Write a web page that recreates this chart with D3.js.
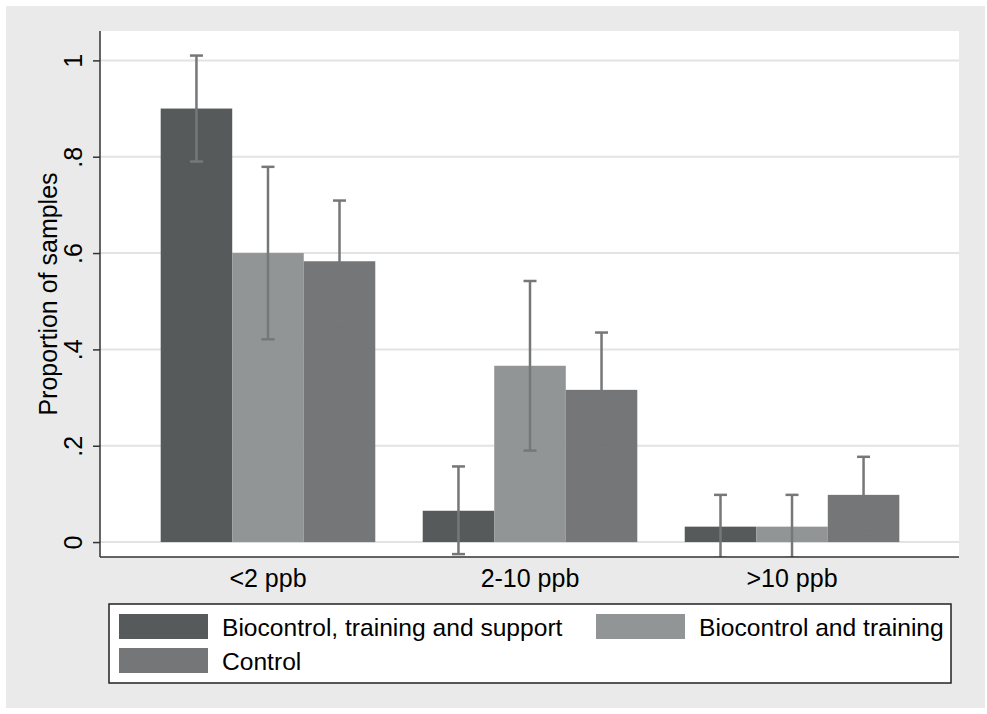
<!DOCTYPE html>
<html>
<head>
<meta charset="utf-8">
<script src="https://cdn.jsdelivr.net/npm/d3@7/dist/d3.min.js"></script>
<style>
  body { margin: 0; background: #ffffff; }
  text { font-family: "Liberation Sans", Arial, sans-serif; fill: #000; }
</style>
</head>
<body>
<div id="chart"></div>
<script>
// categories and series
var categories = ["<2 ppb", "2-10 ppb", ">10 ppb"];
var seriesNames = ["Biocontrol, training and support", "Biocontrol and training", "Control"];
var seriesColors = ["#565a5b", "#929595", "#757677"];

// proportions per series (one value per category)
var meanSupport = [0.900, 0.065, 0.032];
var meanTraining = [0.600, 0.366, 0.032];
var meanControl = [0.583, 0.316, 0.098];

// confidence interval bounds
var upperSupport = [1.010, 0.157, 0.098];
var upperTraining = [0.779, 0.542, 0.098];
var upperControl = [0.709, 0.435, 0.177];
var lowerSupport = [0.790, -0.025, -0.033];
var lowerTraining = [0.421, 0.190, -0.033];
var lowerControl = [0.457, 0.197, 0.019];

var yTicks = [0, 0.2, 0.4, 0.6, 0.8, 1];

var means = [meanSupport, meanTraining, meanControl];
var uppers = [upperSupport, upperTraining, upperControl];
var lowers = [lowerSupport, lowerTraining, lowerControl];

// build flat table of bars
var bars = [];
categories.forEach(function(c, ci) {
    seriesNames.forEach(function(s, si) {
        bars.push({cat: c, series: s, si: si, v: means[si][ci], lo: lowers[si][ci], hi: uppers[si][ci]});
    });
});

var W = 987, H = 714;
var plot = {left: 100, right: 959, top: 31, bottom: 557};
var errColor = "#767778";

var svg = d3.select("#chart").append("svg")
    .attr("width", W)
    .attr("height", H);

// outer gray panel
svg.append("rect")
    .attr("x", 6).attr("y", 6)
    .attr("width", 979).attr("height", 702)
    .attr("fill", "#eaeaea");

// white plot region
svg.append("rect")
    .attr("x", plot.left).attr("y", plot.top)
    .attr("width", plot.right - plot.left).attr("height", plot.bottom - plot.top)
    .attr("fill", "#ffffff");

//-----scales-----
var y = d3.scaleLinear()
    .domain([-0.031, 1.061])
    .range([plot.bottom, plot.top]);

var x = d3.scaleBand()
    .domain(categories)
    .range([plot.left, plot.right + 1])
    .paddingInner(0.181)
    .paddingOuter(0.2316);

var xSeries = d3.scaleBand()
    .domain(seriesNames)
    .range([0, x.bandwidth()]);

// gridlines
svg.append("g").selectAll("line")
    .data(yTicks)
    .enter().append("line")
    .attr("x1", plot.left)
    .attr("x2", plot.right)
    .attr("y1", function(d) { return y(d); })
    .attr("y2", function(d) { return y(d); })
    .style("stroke", "#e3e3e3")
    .style("stroke-width", 2);

// clip for error bars
svg.append("clipPath").attr("id", "plotclip")
    .append("rect")
    .attr("x", plot.left).attr("y", plot.top)
    .attr("width", plot.right - plot.left).attr("height", plot.bottom - plot.top);

// bars
svg.append("g").selectAll("rect")
    .data(bars)
    .enter().append("rect")
    .attr("x", function(d) { return x(d.cat) + xSeries(d.series); })
    .attr("y", function(d) { return y(d.v); })
    .attr("width", xSeries.bandwidth())
    .attr("height", function(d) { return y(0) - y(d.v); })
    .attr("fill", function(d) { return seriesColors[d.si]; });

// error bars
var err = svg.append("g")
    .attr("clip-path", "url(#plotclip)")
    .selectAll("g")
    .data(bars)
    .enter().append("g")
    .attr("transform", function(d) {
        return "translate(" + (x(d.cat) + xSeries(d.series) + xSeries.bandwidth() / 2) + ",0)";
    });

err.append("line")
    .attr("x1", 0).attr("x2", 0)
    .attr("y1", function(d) { return y(d.lo); })
    .attr("y2", function(d) { return y(d.hi); })
    .style("stroke", errColor)
    .style("stroke-width", 2.5);

err.selectAll(".cap")
    .data(function(d) { return [d.lo, d.hi]; })
    .enter().append("line")
    .attr("class", "cap")
    .attr("x1", -6.5).attr("x2", 6.5)
    .attr("y1", function(d) { return y(d); })
    .attr("y2", function(d) { return y(d); })
    .style("stroke", errColor)
    .style("stroke-width", 2.5);

//-----axes-----
var yAxis = d3.axisLeft(y)
    .tickValues(yTicks)
    .tickSize(7)
    .tickSizeOuter(0)
    .tickFormat(function(d) {
        if (d === 0) return "0";
        if (d === 1) return "1";
        return String(d).replace("0.", ".");
    });

var yg = svg.append("g")
    .attr("transform", "translate(" + plot.left + ",0)")
    .call(yAxis);
yg.select(".domain").remove();
yg.selectAll(".tick line").style("stroke", "#333").style("stroke-width", 1.5);
yg.selectAll(".tick text")
    .attr("transform", "rotate(-90)")
    .attr("x", 0)
    .attr("y", -18)
    .attr("dy", 0)
    .attr("text-anchor", "middle")
    .style("font-size", "25px")
    .style("font-family", "'Liberation Sans', Arial, sans-serif")
    .style("fill", "#000");

// axis lines
svg.append("line")
    .attr("x1", plot.left).attr("x2", plot.left)
    .attr("y1", plot.top).attr("y2", plot.bottom)
    .style("stroke", "#333").style("stroke-width", 1.5);
svg.append("line")
    .attr("x1", plot.left).attr("x2", plot.right)
    .attr("y1", plot.bottom).attr("y2", plot.bottom)
    .style("stroke", "#333").style("stroke-width", 1.5);

// category labels
svg.append("g").selectAll("text")
    .data(categories)
    .enter().append("text")
    .attr("x", function(d) { return x(d) + x.bandwidth() / 2; })
    .attr("y", 587)
    .attr("text-anchor", "middle")
    .style("font-size", "25px")
    .text(function(d) { return d; });

// y axis title
svg.append("text")
    .attr("transform", "translate(57," + ((plot.top + plot.bottom) / 2) + ") rotate(-90)")
    .attr("text-anchor", "middle")
    .style("font-size", "25px")
    .text("Proportion of samples");

//-----legend-----
var legend = svg.append("g");
legend.append("rect")
    .attr("x", 109).attr("y", 604)
    .attr("width", 842).attr("height", 79)
    .attr("fill", "#ffffff")
    .style("stroke", "#222")
    .style("stroke-width", 1.5);

var legendPos = [
    {x: 119, y: 614},
    {x: 596, y: 614},
    {x: 119, y: 648}
];

var items = legend.selectAll(".item")
    .data(seriesNames)
    .enter().append("g")
    .attr("class", "item")
    .attr("transform", function(d, i) { return "translate(" + legendPos[i].x + "," + legendPos[i].y + ")"; });

items.append("rect")
    .attr("width", 89).attr("height", 25)
    .attr("fill", function(d, i) { return seriesColors[i]; });

items.append("text")
    .attr("x", 103)
    .attr("y", 21.5)
    .style("font-size", "24.6px")
    .text(function(d) { return d; });
</script>
</body>
</html>
